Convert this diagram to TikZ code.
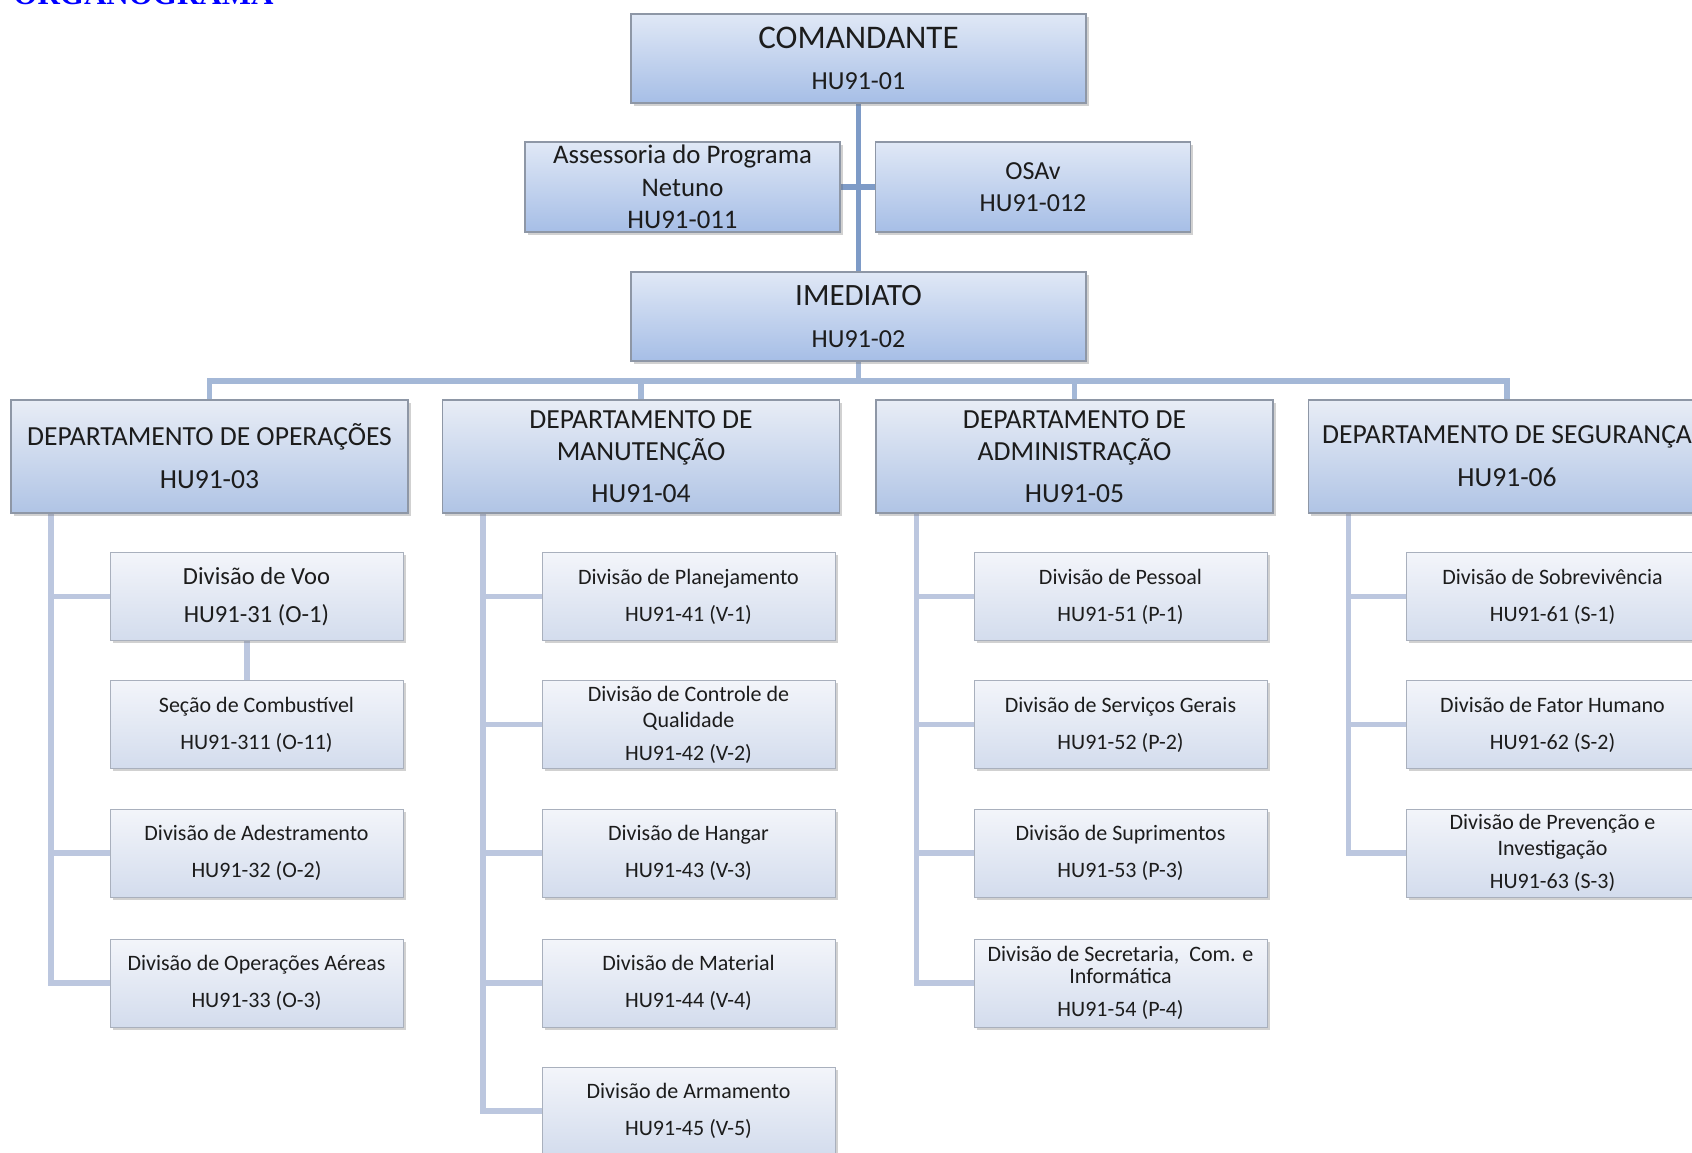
\documentclass[tikz,border=0pt]{standalone}
\usepackage{fontspec}
\setmainfont{Carlito}
\newfontfamily\titlefont{Liberation Serif}
\usetikzlibrary{shadows,backgrounds}
\definecolor{mainln}{HTML}{7E9BC7}
\definecolor{barln}{HTML}{A4B8D7}
\definecolor{subln}{HTML}{BCC7DF}
\definecolor{txt}{HTML}{1C1C1C}
\definecolor{bordr}{HTML}{8E97A6}
\definecolor{bordrl}{HTML}{A9B0BD}
\tikzset{
  basebox/.style={rectangle, inner sep=0pt, align=center, text=txt,
    drop shadow={shadow xshift=1.3pt, shadow yshift=-1.3pt, opacity=0.3, fill=black!60}},
  topbox/.style={basebox, draw=bordr, line width=0.6pt, top color={rgb,255:red,224;green,232;blue,246}, bottom color={rgb,255:red,166;green,190;blue,230},
    minimum width=227.5pt, minimum height=44.5pt},
  sidebox/.style={topbox, minimum width=157.5pt, minimum height=45pt},
  deptbox/.style={basebox, draw=bordr, line width=0.6pt, top color={rgb,255:red,232;green,237;blue,246}, bottom color={rgb,255:red,176;green,196;blue,229},
    minimum width=198.5pt, minimum height=56.5pt, font=\fontsize{13.8}{16}\selectfont},
  subbox/.style={basebox, draw=bordrl, line width=0.5pt, top color={rgb,255:red,243;green,245;blue,250}, bottom color={rgb,255:red,211;green,220;blue,237},
    minimum width=146.5pt, minimum height=44pt, font=\fontsize{11}{13}\selectfont},
  mainline/.style={draw=mainln, line width=2.6pt},
  barline/.style={draw=barln, line width=2.8pt},
  subline/.style={draw=subln, line width=2.7pt},
}
\begin{document}
\begin{tikzpicture}[x=0.5pt, y=-0.5pt]
\useasboundingbox (0,0) rectangle (1692,1152);

% title
\node[anchor=base west, inner sep=0pt, text=blue, font=\titlefont\bfseries\fontsize{15.5}{16}\selectfont] (title) at (13,4) {ORGANOGRAMA};

% top level
\node[topbox, font=\fontsize{13}{20.5}\selectfont] (cmd) at (858.5,58.5) {{\fontsize{16.5}{20.5}\selectfont COMANDANTE}\\HU91-01};
\node[sidebox, font=\fontsize{13.4}{16.25}\selectfont] (ass) at (682.5,187) {Assessoria do Programa\\Netuno\\HU91-011};
\node[sidebox, font=\fontsize{13}{16}\selectfont] (osav) at (1033,187) {OSAv\\HU91-012};
\node[topbox, font=\fontsize{13}{21}\selectfont] (imed) at (858.5,316.5) {{\fontsize{15.5}{21}\selectfont IMEDIATO}\\HU91-02};

% departments
\node[deptbox] (d1) at (209.5,456.5) {DEPARTAMENTO DE OPERAÇÕES\\[5.5pt]HU91-03};
\node[deptbox] (d2) at (641,456.5) {DEPARTAMENTO DE\\MANUTENÇÃO\\[5pt]HU91-04};
\node[deptbox] (d3) at (1074.5,456.5) {DEPARTAMENTO DE\\ADMINISTRAÇÃO\\[5pt]HU91-05};
\node[deptbox] (d4) at (1507,456.5) {DEPARTAMENTO DE SEGURANÇA\\[5.5pt]HU91-06};

% operations
\node[subbox, font=\fontsize{12.3}{14}\selectfont] (o1) at (256.5,596.5) {Divisão de Voo\\[5pt]HU91-31 (O-1)};
\node[subbox] (o11) at (256.5,724.5) {Seção de Combustível\\[5.5pt]HU91-311 (O-11)};
\node[subbox] (o2) at (256.5,853) {Divisão de Adestramento\\[5.5pt]HU91-32 (O-2)};
\node[subbox] (o3) at (256.5,983) {Divisão de Operações Aéreas\\[5.5pt]HU91-33 (O-3)};

% maintenance
\node[subbox] (m1) at (688.5,596.5) {Divisão de Planejamento\\[5.5pt]HU91-41 (V-1)};
\node[subbox] (m2) at (688.5,724.5) {Divisão de Controle de\\Qualidade\\[3.5pt]HU91-42 (V-2)};
\node[subbox] (m3) at (688.5,853) {Divisão de Hangar\\[5.5pt]HU91-43 (V-3)};
\node[subbox] (m4) at (688.5,983) {Divisão de Material\\[5.5pt]HU91-44 (V-4)};
\node[subbox] (m5) at (688.5,1111) {Divisão de Armamento\\[5.5pt]HU91-45 (V-5)};

% administration
\node[subbox] (a1) at (1120.5,596.5) {Divisão de Pessoal\\[5.5pt]HU91-51 (P-1)};
\node[subbox] (a2) at (1120.5,724.5) {Divisão de Serviços Gerais\\[5.5pt]HU91-52 (P-2)};
\node[subbox] (a3) at (1120.5,853) {Divisão de Suprimentos\\[5.5pt]HU91-53 (P-3)};
\node[subbox] (a4) at (1120.5,983) {Divisão de Secretaria,\ \ Com. e\\[-2pt]Informática\\[3.5pt]HU91-54 (P-4)};

% safety
\node[subbox] (s1) at (1552.5,596.5) {Divisão de Sobrevivência\\[5.5pt]HU91-61 (S-1)};
\node[subbox] (s2) at (1552.5,724.5) {Divisão de Fator Humano\\[5.5pt]HU91-62 (S-2)};
\node[subbox] (s3) at (1552.5,853) {Divisão de Prevenção e\\Investigação\\[3.5pt]HU91-63 (S-3)};

\begin{scope}[on background layer]
% connectors: top
\draw[mainline] (cmd.south) -- (imed.north);
\draw[mainline] (ass.east) -- (osav.west);
\coordinate (bar) at (858.5,381);
\draw[barline] (imed.south) -- (bar);
\draw[barline] (d1.north) |- (bar) -| (d4.north);
\draw[barline] (d2.north) -- (d2.north |- bar);
\draw[barline] (d3.north) -- (d3.north |- bar);

% spines
\coordinate (sp1) at ([xshift=20.25pt]d1.south west);
\coordinate (sp2) at ([xshift=20.5pt]d2.south west);
\coordinate (sp3) at ([xshift=20.5pt]d3.south west);
\coordinate (sp4) at ([xshift=20.25pt]d4.south west);

\draw[subline] (sp1) |- (o3.west);
\draw[subline] (o1.west) -- (o1.west -| sp1);
\draw[subline] (o2.west) -- (o2.west -| sp1);
\draw[subline] ([xshift=-4.75pt]o1.south) -- ([xshift=-4.75pt]o11.north);

\draw[subline] (sp2) |- (m5.west);
\foreach \n in {m1,m2,m3,m4} \draw[subline] (\n.west) -- (\n.west -| sp2);

\draw[subline] (sp3) |- (a4.west);
\foreach \n in {a1,a2,a3} \draw[subline] (\n.west) -- (\n.west -| sp3);

\draw[subline] (sp4) |- (s3.west);
\foreach \n in {s1,s2} \draw[subline] (\n.west) -- (\n.west -| sp4);
\end{scope}
\end{tikzpicture}
\end{document}
